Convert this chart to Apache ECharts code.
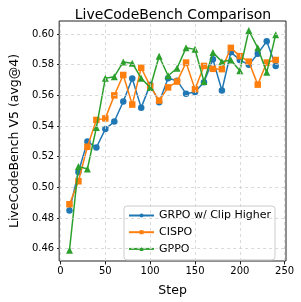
<!DOCTYPE html>
<html><head><meta charset="utf-8">
<script src="https://cdn.jsdelivr.net/npm/echarts@6/dist/echarts.min.js"></script>
<style>html,body{margin:0;padding:0;background:#fff}#c{width:301px;height:302px}</style>
</head><body><div id="c"></div>
<script>
const steps = [10,20,30,40,50,60,70,80,90,100,110,120,130,140,150,160,170,180,190,200,210,220,230,240];
const grpo = [0.485,0.510,0.530,0.526,0.538,0.543,0.556,0.571,0.552,0.567,0.5555,0.5712,0.5696,0.5611,0.5622,0.5686,0.5835,0.5632,0.5882,0.5831,0.5799,0.5872,0.5953,0.5792];
const cispo = [0.489,0.504,0.5265,0.544,0.545,0.560,0.5733,0.554,0.578,0.566,0.5566,0.5652,0.569,0.5814,0.564,0.5792,0.5773,0.5771,0.591,0.5856,0.582,0.567,0.5814,0.5831];
const gppo = [0.459,0.5137,0.512,0.539,0.5712,0.5722,0.5818,0.581,0.5712,0.5651,0.5855,0.5728,0.5777,0.591,0.590,0.569,0.588,0.582,0.5831,0.576,0.6023,0.591,0.575,0.5996];
const xTicks = [0,50,100,150,200,250];
const yTicks = [0.46,0.48,0.50,0.52,0.54,0.56,0.58,0.60];
const names = ['GRPO w/ Clip Higher','CISPO','GPPO'];

const F = 'DejaVu Sans';
const chart = echarts.init(document.getElementById('c'), null, {renderer:'canvas'});
const pair = a => steps.map((s,i)=>[s,a[i]]);
const gridLines = xTicks.map(v=>({xAxis:v})).concat(yTicks.map(v=>({yAxis:v})));
chart.setOption({
  animation:false,
  title:{text:'LiveCodeBench Comparison',left:168,textAlign:'center',top:3,textStyle:{fontFamily:F,fontSize:14,fontWeight:'normal',color:'#000'}},
  grid:{left:50,right:15,top:21,bottom:37,show:true,borderColor:'#222',borderWidth:1,backgroundColor:'transparent'},
  xAxis:{type:'value',min:-1.5,max:251.5,name:'Step',nameLocation:'middle',nameGap:23,
    nameTextStyle:{fontFamily:F,fontSize:12.5,color:'#000'},
    axisLine:{show:false},splitLine:{show:false},
    axisTick:{show:true,customValues:xTicks,length:3.5,lineStyle:{color:'#222'}},
    axisLabel:{customValues:xTicks,fontFamily:F,fontSize:10,color:'#000',margin:5}},
  yAxis:{type:'value',min:0.452,max:0.6085,name:'LiveCodeBench V5 (avg@4)',nameLocation:'middle',nameGap:38,
    nameTextStyle:{fontFamily:F,fontSize:12.5,color:'#000'},
    axisLine:{show:false},splitLine:{show:false},
    axisTick:{show:true,customValues:yTicks,length:3.5,lineStyle:{color:'#222'}},
    axisLabel:{customValues:yTicks,fontFamily:F,fontSize:10,color:'#000',margin:5,formatter:v=>v.toFixed(2)}},
  legend:{data:names,orient:'vertical',left:124,top:206,padding:[3,4,4.5,4],itemWidth:25,itemHeight:5,itemGap:3.7,
    backgroundColor:'rgba(255,255,255,0.8)',borderColor:'#ccc',borderWidth:1,borderRadius:3,
    textStyle:{fontFamily:F,fontSize:11,color:'#000',lineHeight:13}},
  series:[
    {type:'line',name:'grid',data:[],z:1,silent:true,
      markLine:{silent:true,symbol:'none',label:{show:false},lineStyle:{type:[3,3],color:'#d0d0d0',width:0.8},data:gridLines,animation:false}},
    {type:'line',name:names[0],data:pair(grpo),z:2,symbol:'circle',symbolSize:6.5,color:'#1f77b4',lineStyle:{width:1.5},itemStyle:{color:'#1f77b4'}},
    {type:'line',name:names[1],data:pair(cispo),z:3,symbol:'rect',symbolSize:6.5,color:'#ff7f0e',lineStyle:{width:1.5},itemStyle:{color:'#ff7f0e'}},
    {type:'line',name:names[2],data:pair(gppo),z:4,symbol:'triangle',symbolSize:7,color:'#2ca02c',lineStyle:{width:1.5},itemStyle:{color:'#2ca02c'}}
  ]
});
</script></body></html>
